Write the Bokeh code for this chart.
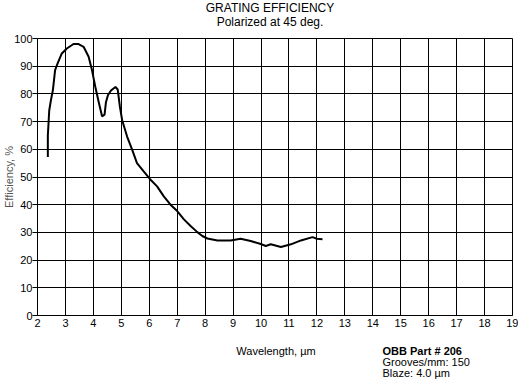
from bokeh.plotting import figure
from bokeh.models import Range1d, FixedTicker
from bokeh.layouts import column
from bokeh.core.properties import value
from bokeh.embed import file_html
from bokeh.resources import INLINE

# ---- data ----
wavelength = [2.37, 2.37, 2.42, 2.48, 2.55, 2.63, 2.72, 2.87, 3.05, 3.29, 3.47,
              3.65, 3.83, 3.95, 4.07, 4.19, 4.31, 4.40, 4.45, 4.52, 4.63, 4.79,
              4.87, 4.95, 5.03, 5.21, 5.39, 5.56, 5.80, 6.02, 6.28, 6.52, 6.76,
              7.00, 7.24, 7.48, 7.72, 7.90, 8.08, 8.44, 8.91, 9.27, 9.63, 9.99,
              10.17, 10.35, 10.71, 11.07, 11.43, 11.84, 12.00, 12.20]
efficiency = [57.2, 65.0, 74.0, 77.7, 81.3, 88.6, 91.0, 94.6, 96.4, 98.0, 98.0,
              97.0, 93.4, 88.6, 82.5, 77.1, 71.9, 72.5, 77.0, 79.5, 81.2, 82.5,
              81.6, 75.3, 70.5, 64.5, 59.8, 55.0, 52.0, 49.3, 46.6, 43.0, 40.0,
              37.7, 34.7, 32.3, 30.1, 28.7, 27.8, 27.1, 27.1, 27.7, 26.9, 25.8,
              25.1, 25.7, 24.7, 25.7, 27.1, 28.3, 27.7, 27.5]

x_ticks = list(range(2, 20))
y_ticks = list(range(0, 101, 10))

title_lines = ["GRATING EFFICIENCY", "Polarized at 45 deg."]
x_label_text = "Wavelength, \u00b5m"
y_label_text = "Efficiency, %"
info_lines = ["OBB Part # 206", "Grooves/mm: 150", "Blaze: 4.0 \u00b5m"]

# ---- layout (pixels) ----
W = 518
TOP_H = 30          # title strip
MAIN_H = 306        # chart with axes
BOT_H = 45          # axis title + part info
BL, BR, BT, BB = 37, 6, 8, 21
FONT = "Liberation Sans"
X0, X1 = 2, 19
FRAME_L, FRAME_R = 37, 512


def px_x(px):
    """page pixel x -> wavelength axis coordinate (frames are aligned in the column)"""
    return X0 + (px - FRAME_L) * (X1 - X0) / (FRAME_R - FRAME_L)


x_range = Range1d(X0, X1)


def text_strip(height, y_top):
    """A frame-only figure sharing the chart's x axis, y in page pixels."""
    f = figure(width=W, height=height, x_range=x_range,
               y_range=Range1d(y_top + height, y_top),
               output_backend="svg", toolbar_location=None,
               x_axis_location=None, y_axis_location=None,
               min_border_left=BL, min_border_right=BR,
               min_border_top=0, min_border_bottom=0)
    f.outline_line_color = None
    f.background_fill_color = "white"
    f.border_fill_color = "white"
    f.grid.visible = False
    return f


def put(f, px, y, text, size="11px", align="center", bold=False):
    f.text(x=[px_x(px)], y=[y], text=[text], text_font=value(FONT),
           text_font_size=value(size), text_align=value(align),
           text_baseline=value("middle"), text_color="black",
           text_font_style=value("bold" if bold else "normal"))


# title strip
p_top = text_strip(TOP_H, 0)
put(p_top, 269.5, 7, title_lines[0], size="12px")
put(p_top, 269.5, 21.5, title_lines[1], size="12px")

# main chart
p = figure(width=W, height=MAIN_H, x_range=x_range, y_range=Range1d(0, 100),
           output_backend="svg", toolbar_location=None,
           min_border_left=BL, min_border_right=BR,
           min_border_top=BT, min_border_bottom=BB)
p.background_fill_color = "white"
p.border_fill_color = "white"
p.outline_line_color = "black"
p.outline_line_width = 1

for ax, ticks in ((p.xaxis, x_ticks), (p.yaxis, y_ticks)):
    ax.ticker = FixedTicker(ticks=ticks)
    ax.axis_line_color = "black"
    ax.major_tick_line_color = "black"
    ax.major_tick_in = 0
    ax.minor_tick_in = 0
    ax.minor_tick_out = 0
    ax.major_label_text_font = FONT
    ax.major_label_text_font_size = "11px"
    ax.major_label_text_color = "black"

p.xaxis.major_tick_out = 0
p.xaxis.major_label_standoff = 3
p.yaxis.major_tick_out = 5
p.yaxis.major_label_standoff = 0
p.yaxis.axis_label = y_label_text
p.yaxis.axis_label_standoff = -4
p.yaxis.axis_label_text_font = FONT
p.yaxis.axis_label_text_font_size = "11px"
p.yaxis.axis_label_text_font_style = "normal"
p.yaxis.axis_label_text_color = "#555555"

p.xgrid.ticker = FixedTicker(ticks=x_ticks)
p.ygrid.ticker = FixedTicker(ticks=y_ticks)
for g in (p.xgrid, p.ygrid):
    g.grid_line_color = "black"
    g.grid_line_alpha = 1.0
    g.grid_line_width = 1

p.line(wavelength, efficiency, line_color="black", line_width=2)

# bottom strip
y0 = TOP_H + MAIN_H
p_bot = text_strip(BOT_H, y0)
put(p_bot, 275.5, 350.5, x_label_text)
put(p_bot, 382, 350, info_lines[0], align="left", bold=True)
put(p_bot, 382, 361, info_lines[1], align="left")
put(p_bot, 382, 372, info_lines[2], align="left")

layout = column(p_top, p, p_bot, spacing=0)
open("out.html", "w").write(file_html(layout, INLINE))
